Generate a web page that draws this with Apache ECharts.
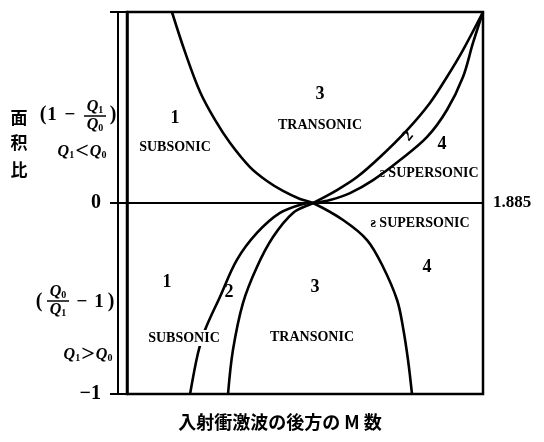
<!DOCTYPE html>
<html>
<head>
<meta charset="utf-8">
<script src="https://cdn.jsdelivr.net/npm/echarts@6/dist/echarts.min.js"></script>
<style>
  html, body { margin: 0; padding: 0; background: #fff; }
  #chart { width: 544px; height: 442px; }
</style>
</head>
<body>
<div id="chart"></div>
<script>
// Mach number behind the incident shock (x) against area ratio (y)
const xMin = 0;
const xMax = 1.885;
const yTicks = [-1, 0, 1];

// Boundary 1: subsonic / transonic above, transonic / supersonic below
const curve1M = [0.238, 0.307, 0.387, 0.466, 0.546, 0.651, 0.741, 0.826, 0.916, 0.985, 1.144, 1.271, 1.356, 1.430, 1.461, 1.488, 1.509];
const curve1V = [1.0, 0.791, 0.581, 0.435, 0.314, 0.188, 0.115, 0.063, 0.021, 0, -0.089, -0.194, -0.335, -0.508, -0.649, -0.822, -1.0];

// Boundary 2: lower-left branch continuing to the inner upper-right branch
const curve2M = [0.334, 0.376, 0.413, 0.492, 0.582, 0.688, 0.810, 0.932, 0.985, 1.075, 1.181, 1.303, 1.446, 1.589, 1.694, 1.779, 1.832, 1.885];
const curve2V = [-1.0, -0.785, -0.665, -0.492, -0.298, -0.157, -0.052, -0.005, 0, 0.016, 0.052, 0.120, 0.225, 0.346, 0.487, 0.660, 0.838, 1.0];

// Boundary 3: lower branch continuing to the outer upper-right branch
const curve3M = [0.535, 0.561, 0.614, 0.688, 0.773, 0.879, 0.985, 1.112, 1.218, 1.340, 1.483, 1.604, 1.694, 1.779, 1.885];
const curve3V = [-1.0, -0.770, -0.524, -0.335, -0.178, -0.052, 0, 0.068, 0.136, 0.241, 0.382, 0.524, 0.660, 0.801, 1.0];

const rightLabel = '1.885';
const xTitle = '入射衝激波の後方の M 数';
const yTitleChars = ['面', '积', '比'];

const pairs = (ms, vs) => ms.map((m, i) => [m, vs[i]]);

const SERIF = '"Liberation Serif", "DejaVu Serif", serif';
const CJK = '"Noto Sans CJK JP", "Noto Sans CJK SC", sans-serif';

function txt(x, y, text, font, extra) {
  return {
    type: 'text', x: x, y: y, z: 10,
    style: Object.assign({ text: text, font: font, fill: '#000', align: 'center', verticalAlign: 'middle' }, extra || {})
  };
}

const qRich = {
  q: { fontFamily: SERIF, fontStyle: 'italic', fontWeight: 'bold', fontSize: 16, lineHeight: 17 },
  s: { fontFamily: SERIF, fontWeight: 'bold', fontSize: 10, lineHeight: 17, verticalAlign: 'bottom', padding: [6, 0, 0, 0] },
  op: { fontFamily: SERIF, fontWeight: 'bold', fontSize: 24, lineHeight: 17, padding: [0, 1, 0, 1] }
};

function fraction(cx, cy, num, den, halfW) {
  return [
    { type: 'text', x: cx, y: cy - 9, z: 10, style: { text: num, rich: qRich, align: 'center', verticalAlign: 'middle', fill: '#000' } },
    { type: 'line', z: 10, shape: { x1: cx - halfW, y1: cy, x2: cx + halfW, y2: cy }, style: { stroke: '#000', lineWidth: 1.5 } },
    { type: 'text', x: cx, y: cy + 9, z: 10, style: { text: den, rich: qRich, align: 'center', verticalAlign: 'middle', fill: '#000' } }
  ];
}

const numFont = 'bold 18px ' + SERIF;
const smallFont = 'bold 14px ' + SERIF;
const white = { backgroundColor: '#fff', padding: [1, 2] };

const annotations = [
  // side title
  txt(19, 118, yTitleChars[0], 'bold 17px ' + CJK),
  txt(19, 143, yTitleChars[1], 'bold 17px ' + CJK),
  txt(19, 170, yTitleChars[2], 'bold 17px ' + CJK),
  // upper ratio expression
  txt(43, 115, '(', 'bold 20px ' + SERIF),
  txt(52, 115, '1', 'bold 19px ' + SERIF),
  txt(70, 115, '−', 'bold 19px ' + SERIF),
  ...fraction(95, 116, '{q|Q}{s|1}', '{q|Q}{s|0}', 11),
  txt(113, 115, ')', 'bold 20px ' + SERIF),
  { type: 'text', x: 82, y: 152, z: 10, style: { text: '{q|Q}{s|1}{op|<}{q|Q}{s|0}', rich: qRich, align: 'center', verticalAlign: 'middle', fill: '#000' } },
  // lower ratio expression
  txt(39, 302, '(', 'bold 20px ' + SERIF),
  ...fraction(58, 301, '{q|Q}{s|0}', '{q|Q}{s|1}', 11),
  txt(82, 302, '−', 'bold 19px ' + SERIF),
  txt(99, 302, '1', 'bold 19px ' + SERIF),
  txt(111, 302, ')', 'bold 20px ' + SERIF),
  { type: 'text', x: 88, y: 355, z: 10, style: { text: '{q|Q}{s|1}{op|>}{q|Q}{s|0}', rich: qRich, align: 'center', verticalAlign: 'middle', fill: '#000' } },
  // regions above the zero line
  txt(175, 118, '1', numFont),
  txt(175, 147, 'SUBSONIC', smallFont),
  txt(320, 94, '3', numFont),
  txt(320, 125, 'TRANSONIC', smallFont),
  { type: 'text', x: 408, y: 136, rotation: Math.PI * 0.28, z: 10, style: { text: '2', font: 'bold 16px ' + SERIF, fill: '#000', align: 'center', verticalAlign: 'middle' } },
  txt(442, 144, '4', numFont),
  txt(429, 173, 'ƨ SUPERSONIC', smallFont),
  // regions below the zero line
  txt(420, 223, 'ƨ SUPERSONIC', smallFont),
  txt(167, 282, '1', numFont),
  txt(229, 292, '2', numFont),
  txt(315, 287, '3', numFont),
  txt(427, 267, '4', numFont),
  txt(184, 338, 'SUBSONIC', smallFont, white),
  txt(312, 337, 'TRANSONIC', smallFont),
  // horizontal title
  txt(280, 422, xTitle, 'bold 18px ' + CJK)
];

const lineStyle = { color: '#000', width: 2.6 };
function boundary(ms, vs) {
  return {
    type: 'line', data: pairs(ms, vs), symbol: 'none', smooth: 0.35,
    lineStyle: lineStyle, z: 3, silent: true, animation: false
  };
}

const chart = echarts.init(document.getElementById('chart'), null, { renderer: 'canvas' });
chart.setOption({
  animation: false,
  backgroundColor: '#fff',
  grid: { left: 127, right: 61, top: 12, bottom: 48, show: true, borderColor: '#000', borderWidth: 2.5 },
  xAxis: {
    type: 'value', min: xMin, max: xMax,
    axisLine: { show: true, onZero: true, lineStyle: { color: '#000', width: 2 } },
    axisTick: { show: false }, axisLabel: { show: false }, splitLine: { show: false },
    name: rightLabel, nameLocation: 'end', nameGap: 10,
    nameTextStyle: { color: '#000', fontFamily: SERIF, fontWeight: 'bold', fontSize: 17, verticalAlign: 'middle' }
  },
  yAxis: [
    {
      type: 'value', min: yTicks[0], max: yTicks[yTicks.length - 1], interval: 1,
      axisLine: { show: true, lineStyle: { color: '#000', width: 2.5 } },
      axisTick: { show: true, inside: false, length: 17, lineStyle: { color: '#000', width: 2 } },
      axisLabel: {
        show: true, margin: 26, color: '#000', fontFamily: SERIF, fontWeight: 'bold', fontSize: 20,
        formatter: v => (v === 1 ? '' : (v < 0 ? '−' + Math.abs(v) : String(v)))
      },
      splitLine: { show: false }
    },
    {
      type: 'value', min: yTicks[0], max: yTicks[yTicks.length - 1], position: 'left', offset: 9,
      axisLine: { show: true, lineStyle: { color: '#000', width: 2 } },
      axisTick: { show: false }, axisLabel: { show: false }, splitLine: { show: false }
    }
  ],
  series: [
    boundary(curve1M, curve1V),
    boundary(curve2M, curve2V),
    boundary(curve3M, curve3V)
  ],
  graphic: annotations
});
</script>
</body>
</html>
